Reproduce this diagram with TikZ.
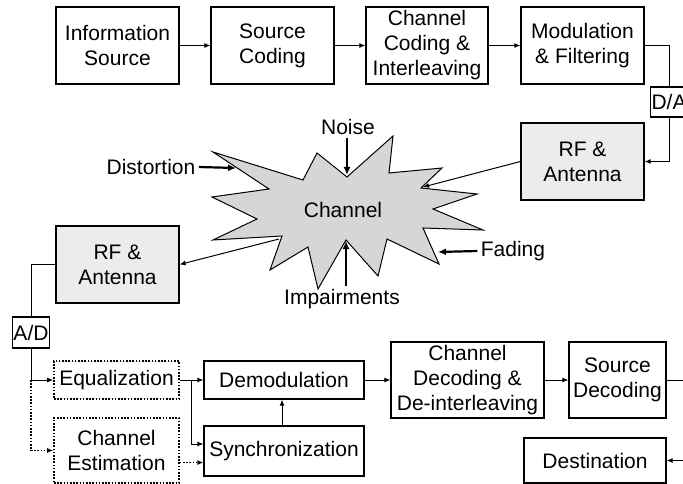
\documentclass[tikz,border=0pt]{standalone}
\usepackage{fontspec}
\setmainfont{Liberation Sans}
\usepackage{tikz}
\usetikzlibrary{arrows.meta}
\colorlet{rfgray}{gray!15}
\colorlet{chgray}{gray!32}
\tikzset{box/.style = {draw=black, line width=1.2pt, inner sep=0pt, align=center}}
\tikzset{rfbox/.style = {box, fill=rfgray}}
\tikzset{dots/.style = {line width=1.6pt, dash pattern=on 1.6pt off 1.6pt}}
\tikzset{optbox/.style = {box, dots}}
\tikzset{arrow/.style={line width=1pt,->,>={Latex[length=6pt,width=5pt]}}}
\tikzset{bigarrow/.style={line width=2.2pt,->,>={Latex[length=8pt,width=7pt]}}}

\begin{document}
\begin{tikzpicture}[x=1pt,y=-1pt,font=\fontsize{21}{25}\selectfont]
\useasboundingbox (0,0) rectangle (683,484);

\node[box,minimum width=123pt,minimum height=77pt] (info) at (117.5,45.5) {Information\\Source};
\node[box,minimum width=123pt,minimum height=77pt] (srccod) at (272.5,45.5) {Source\\Coding};
\node[box,minimum width=122pt,minimum height=77pt] (chcod) at (427,45.5) {Channel\\Coding \&\\Interleaving};
\node[box,minimum width=123pt,minimum height=77pt] (mod) at (582.5,45.5) {Modulation\\\& Filtering};
\node[box,minimum width=37pt,minimum height=30pt,fill=white] (da) at (669,102) {D/A};
\node[rfbox,minimum width=123pt,minimum height=77pt] (rfup) at (582.5,161.5) {RF \&\\Antenna};

\filldraw[fill=chgray,draw=black,line width=1pt,line join=miter]
  (393,136) -- (389,173) -- (442,168) -- (421,188) -- (477,194) -- (433,209)
  -- (483,230) -- (423,228) -- (439,264) -- (387,239) -- (378,276) -- (346,240)
  -- (318,289) -- (308,247) -- (270,270) -- (282,236) -- (213,240) -- (257,219)
  -- (212,197) -- (269,189) -- (213,152) -- (303,180) -- (317,153) -- (347,177) -- cycle;
\node (chan) at (343,210) {Channel};
\coordinate (noisetip) at (347,175);
\coordinate (disttip) at (236,168);
\coordinate (fadetip) at (438,252);
\coordinate (imptip) at (346,241);
\coordinate (inpt) at (423,187);
\coordinate (outpt) at (279,239);

\node (noise) at (348,127) {Noise};
\node (dist) at (151,167) {Distortion};
\node (fade) at (513,251) {Fading};
\node (imp) at (342,299) {Impairments};

\node[rfbox,minimum width=123pt,minimum height=77pt] (rflow) at (117.5,264.5) {RF \&\\Antenna};
\node[box,minimum width=37pt,minimum height=31pt] (ad) at (31,332.5) {A/D};
\node[optbox,minimum width=125pt,minimum height=38pt] (equal) at (116.5,380) {Equalization};
\node[optbox,minimum width=125pt,minimum height=65pt] (chest) at (116.5,450.5) {Channel\\Estimation};
\node[box,minimum width=160pt,minimum height=38pt] (demod) at (284,380) {Demodulation};
\node[box,minimum width=160pt,minimum height=50pt] (sync) at (284,451) {Synchronization};
\node[box,minimum width=153pt,minimum height=76pt] (chdec) at (467.5,380) {Channel\\Decoding \&\\De-interleaving};
\node[box,minimum width=97pt,minimum height=76pt] (srcdec) at (617.5,380) {Source\\Decoding};
\node[box,minimum width=142pt,minimum height=45pt] (dest) at (595,460.5) {Destination};
\coordinate (br) at (191,380);

\draw[arrow] (info) -- (srccod);
\draw[arrow] (srccod) -- (chcod);
\draw[arrow] (chcod) -- (mod);
\draw[line width=1pt] (mod.east) -| (da.north);
\draw[arrow] (da.south) |- (rfup.east);
\draw[arrow] (rfup.west) -- (inpt);
\draw[arrow] (outpt) -- (rflow.east);

\draw[bigarrow] (noise.south -| noisetip) -- (noisetip);
\draw[bigarrow] (dist.east) -- (disttip);
\draw[bigarrow] (fade.west) -- (fadetip);
\draw[bigarrow] (imp.north -| imptip) -- (imptip);

\draw[line width=1pt] (rflow.west) -| (ad.north);
\draw[arrow] (ad.south) |- (equal.west);
\draw[arrow,dots] (ad.south |- equal.west) |- (chest.west);
\draw[arrow] (equal.east) -- (demod.west);
\draw[arrow] (br) |- ([yshift=7pt]sync.west);
\draw[arrow,dots] ([yshift=-12pt]chest.east) -- ([yshift=-12pt]chest.east -| sync.west);
\draw[arrow] (sync.north -| 282,0) -- (demod.south -| 282,0);
\draw[arrow] (demod) -- (chdec);
\draw[arrow] (chdec) -- (srcdec);
\draw[arrow] (srcdec.east) -- ++(25,0) |- (dest.east);
\end{tikzpicture}
\end{document}
